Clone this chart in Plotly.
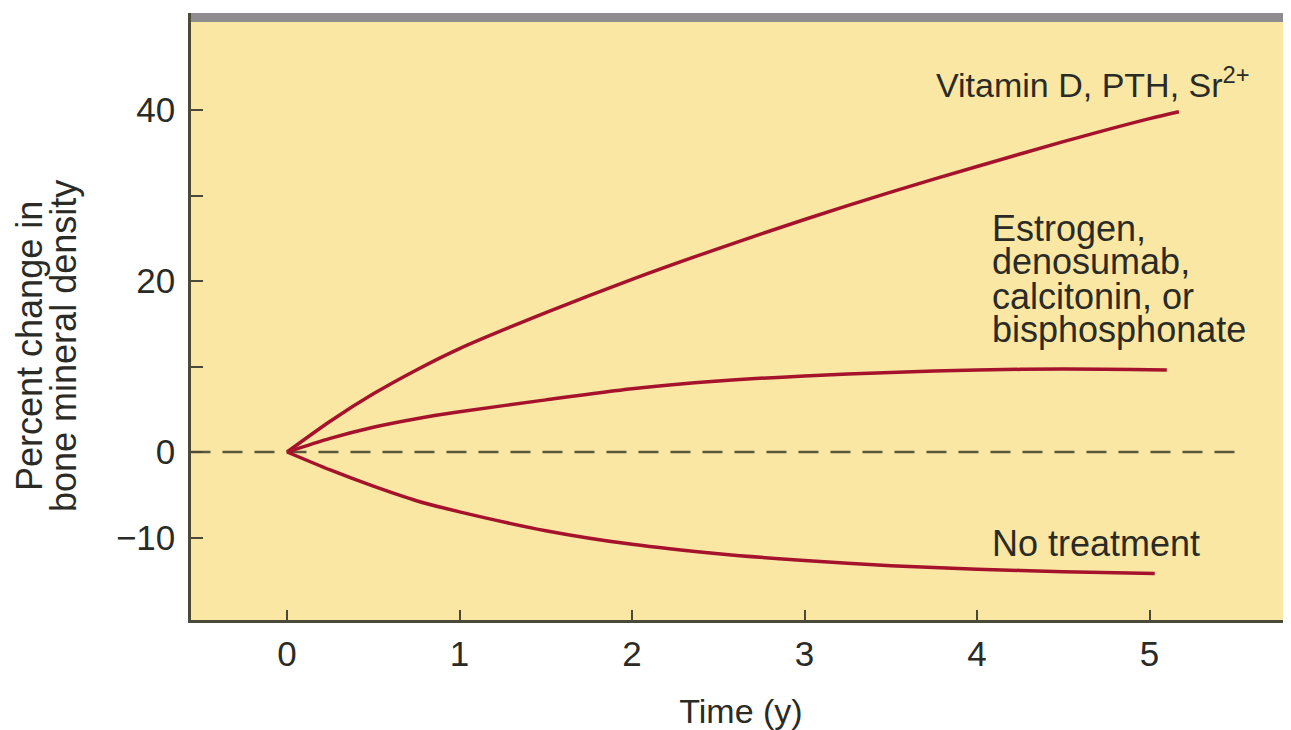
import plotly.graph_objects as go

# ---- data ----
vit_t = [0, 0.25, 0.5, 0.75, 1, 1.5, 2, 2.5, 3, 3.5, 4, 4.5, 5, 5.17]
vit_v = [0, 3.6, 6.8, 9.6, 12.1, 16.3, 20.2, 23.8, 27.2, 30.4, 33.4, 36.3, 39.0, 39.8]

est_t = [0, 0.25, 0.5, 0.75, 1, 1.5, 2, 2.5, 3, 3.5, 4, 4.5, 5.1]
est_v = [0, 1.6, 2.9, 3.9, 4.7, 6.1, 7.4, 8.3, 8.9, 9.3, 9.6, 9.7, 9.6]

no_t = [0, 0.25, 0.5, 0.75, 1, 1.5, 2, 2.5, 3, 3.5, 4, 4.5, 5.03]
no_v = [0, -2.1, -4.0, -5.7, -7.0, -9.2, -10.8, -11.9, -12.7, -13.3, -13.7, -14.0, -14.2]

baseline_t = [-0.56, 5.52]
baseline_v = [0, 0]

x_ticks = [0, 1, 2, 3, 4, 5]
y_ticks = [-10, 0, 20, 40]
y_ticktext = ["\u221210", "0", "20", "40"]
y_minor_ticks = [10, 30]

labels = {
    "vit": "Vitamin D, PTH, Sr<sup>2+</sup>",
    "est": ["Estrogen,", "denosumab,", "calcitonin, or", "bisphosphonate"],
    "no": "No treatment",
    "ytitle": ["Percent change in", "bone mineral density"],
    "xtitle": "Time (y)",
}

RED = "#A5122C"
AXIS = "#4B4938"
FONT = "Liberation Sans, Arial, Helvetica, sans-serif"
TXT = "#2B2B26"

fig = go.Figure()
fig.add_trace(go.Scatter(x=baseline_t, y=baseline_v, mode="lines",
                         line=dict(color="#5A583A", width=2.5, dash="20px,12px"),
                         hoverinfo="skip"))
for t, v in [(vit_t, vit_v), (est_t, est_v), (no_t, no_v)]:
    fig.add_trace(go.Scatter(x=t, y=v, mode="lines",
                             line=dict(color=RED, width=3.5, shape="spline", smoothing=0.8)))

# page has an 8px body margin; figure placed at (8, 8)
OFF = 8
W, H = 1283, 722
L, R, T, B = 183, 0, 5, 110
PLOT_H = H - T - B  # 607

fig.update_layout(
    width=W, height=H,
    margin=dict(l=L, r=R, t=T, b=B, autoexpand=False),
    paper_bgcolor="white",
    plot_bgcolor="#FAE7A4",
    showlegend=False,
    font=dict(family=FONT, size=34, color=TXT),
)
fig.update_xaxes(range=[-0.557, 5.82], tickvals=x_ticks, ticks="inside", ticklen=10,
                 tickwidth=2, tickcolor=AXIS, showline=True, linecolor=AXIS, linewidth=2.5,
                 showgrid=False, zeroline=False, ticklabelstandoff=1, automargin=False,
                 tickfont=dict(size=35, color=TXT),
                 title=dict(text=labels["xtitle"], font=dict(size=34, color=TXT), standoff=29))
fig.update_yaxes(range=[-19.65, 51.35], tickvals=y_ticks, ticktext=y_ticktext,
                 ticks="inside", ticklen=12, tickwidth=2, tickcolor=AXIS,
                 minor=dict(tickvals=y_minor_ticks, ticks="inside", ticklen=12,
                            tickwidth=2, tickcolor=AXIS, showgrid=False),
                 showline=True, linecolor=AXIS, linewidth=2.5, showgrid=False,
                 zeroline=False, ticklabelstandoff=6, automargin=False,
                 tickfont=dict(size=35, color=TXT))


def py(p):
    return (H - B - (p - OFF)) / PLOT_H


def px(p):
    return (p - OFF - L) / (W - L - R)


# gray band at top of panel
fig.add_shape(type="rect", xref="paper", yref="paper", x0=0, x1=1,
              y0=py(22), y1=1, fillcolor="#8E8C8F", line_width=0, layer="above")

ann = []
ann.append(dict(text=labels["vit"], xref="paper", yref="paper", x=px(934), y=py(82),
                xanchor="left", yanchor="middle", showarrow=False,
                font=dict(size=34, color=TXT, family=FONT)))
est_centers = [228, 261, 296, 330]
for line, c in zip(labels["est"], est_centers):
    ann.append(dict(text=line, xref="paper", yref="paper", x=px(990), y=py(c),
                    xanchor="left", yanchor="middle", showarrow=False,
                    font=dict(size=36, color=TXT, family=FONT)))
ann.append(dict(text=labels["no"], xref="paper", yref="paper", x=px(990), y=py(543),
                xanchor="left", yanchor="middle", showarrow=False,
                font=dict(size=36, color=TXT, family=FONT)))
for line, cx in zip(labels["ytitle"], [30, 64]):
    ann.append(dict(text=line, xref="paper", yref="paper", x=px(cx), y=py(346),
                    xanchor="center", yanchor="middle", textangle=-90, showarrow=False,
                    font=dict(size=36, color=TXT, family=FONT)))
fig.update_layout(annotations=ann)

fig.write_html("out.html")
